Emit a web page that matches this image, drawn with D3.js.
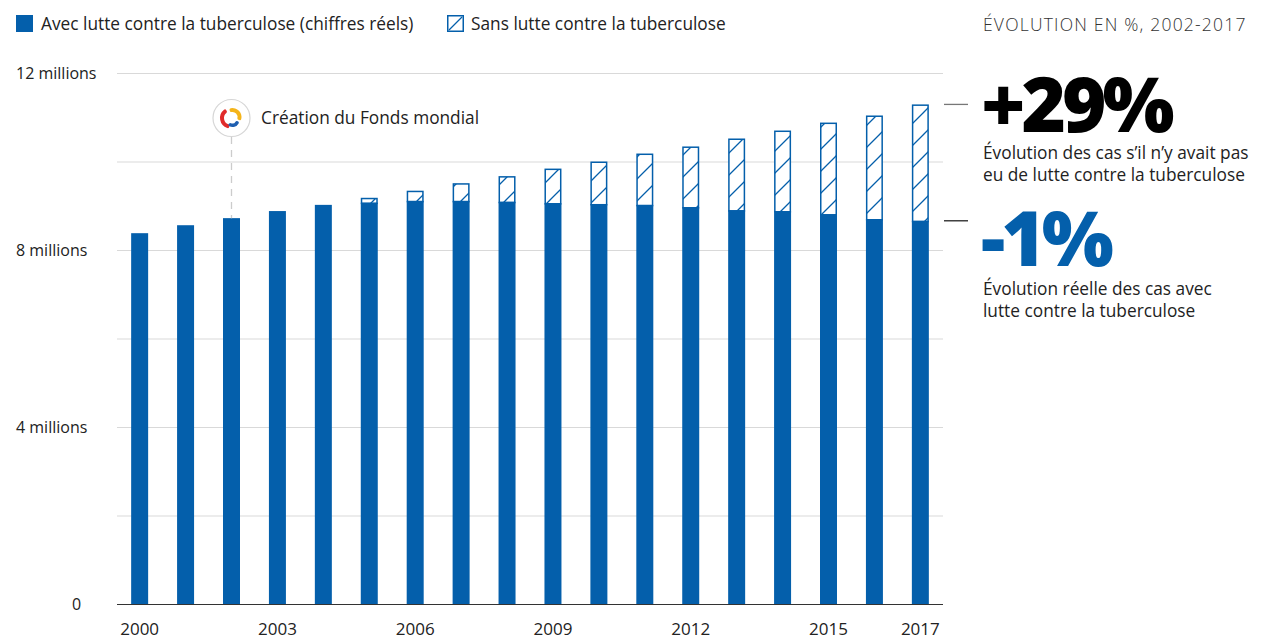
<!DOCTYPE html>
<html>
<head>
<meta charset="utf-8">
<script src="https://cdn.jsdelivr.net/npm/d3@7"></script>
<style>
  body { margin: 0; background: #fff; }
  svg { display: block; font-family: "Open Sans", "Lato", sans-serif; }
</style>
</head>
<body>
<div id="chart"></div>
<script>
// Data (millions of cases)
const years = [2000, 2001, 2002, 2003, 2004, 2005, 2006, 2007, 2008, 2009, 2010, 2011, 2012, 2013, 2014, 2015, 2016, 2017];
const actualCases = [8.38, 8.56, 8.72, 8.88, 9.02, 9.07, 9.11, 9.11, 9.09, 9.06, 9.04, 9.02, 8.97, 8.90, 8.88, 8.81, 8.70, 8.66];
const noResponseCases = [null, null, null, null, null, 9.18, 9.34, 9.51, 9.67, 9.84, 10.00, 10.18, 10.34, 10.52, 10.70, 10.88, 11.04, 11.29];
const yTicks = [0, 4, 8, 12];
const yGrid = [2, 4, 6, 8, 10, 12];
const xTickYears = [2000, 2003, 2006, 2009, 2012, 2015, 2017];
const legendLabels = ["Avec lutte contre la tuberculose (chiffres réels)", "Sans lutte contre la tuberculose"];

const blue = "#045fab";
const width = 1261, height = 640;
const fs = 17.3;

const svg = d3.select("#chart").append("svg")
    .attr("width", width)
    .attr("height", height);

const defs = svg.append("defs");
const hatch = defs.append("pattern")
    .attr("id", "hatch")
    .attr("patternUnits", "userSpaceOnUse")
    .attr("width", 22)
    .attr("height", 22)
    .attr("y", 2);
hatch.append("rect").attr("width", 22).attr("height", 22).attr("fill", "#fff");
hatch.append("path")
    .attr("d", "M0,22 L22,0 M-11,11 L11,-11 M11,33 L33,11")
    .attr("stroke", blue)
    .attr("stroke-width", 1.3);

// Scales
const x = d3.scaleBand()
    .domain(years)
    .range([116, 944])
    .paddingInner(0.63)
    .paddingOuter(0.33);

const y = d3.scaleLinear()
    .domain([0, 12])
    .range([604, 73]);

// Grid lines
svg.append("g")
    .selectAll("line")
    .data(yGrid)
    .join("line")
    .attr("x1", 117)
    .attr("x2", 943)
    .attr("y1", d => y(d) + 0.5)
    .attr("y2", d => y(d) + 0.5)
    .attr("stroke", "#d9d9d9")
    .attr("stroke-width", 1);

// Y labels
svg.append("g")
    .selectAll("text")
    .data(yTicks)
    .join("text")
    .attr("x", d => d === 0 ? 72 : 16)
    .attr("y", d => y(d) + 6)
    .attr("font-size", 16)
    .attr("fill", "#222")
    .text(d => d === 0 ? "0" : d + " millions");

// Hatched part (total without response)
const rows = years.map((yr, i) => ({ year: yr, actual: actualCases[i], total: noResponseCases[i] }));

svg.append("g")
    .selectAll("rect")
    .data(rows.filter(d => d.total !== null))
    .join("rect")
    .attr("x", d => x(d.year) + 0.75)
    .attr("width", x.bandwidth() - 1.5)
    .attr("y", d => y(d.total) + 0.75)
    .attr("height", d => y(d.actual) - y(d.total))
    .attr("fill", "url(#hatch)")
    .attr("stroke", blue)
    .attr("stroke-width", 1.5);

// Solid bars (actual)
svg.append("g")
    .selectAll("rect")
    .data(rows)
    .join("rect")
    .attr("x", d => x(d.year))
    .attr("width", x.bandwidth())
    .attr("y", d => y(d.actual))
    .attr("height", d => y(0) - y(d.actual))
    .attr("fill", blue);

// Baseline
svg.append("line")
    .attr("x1", 117).attr("x2", 943)
    .attr("y1", y(0) + 0.5).attr("y2", y(0) + 0.5)
    .attr("stroke", "#333").attr("stroke-width", 1.2);

// X labels
svg.append("g")
    .selectAll("text")
    .data(xTickYears)
    .join("text")
    .attr("x", d => x(d) + x.bandwidth() / 2)
    .attr("y", 635)
    .attr("text-anchor", "middle")
    .attr("font-size", 17)
    .attr("fill", "#222")
    .text(d => d);

// Global Fund marker at 2002
const mx = x(2002) + x.bandwidth() / 2;
svg.append("line")
    .attr("x1", mx).attr("x2", mx)
    .attr("y1", 137).attr("y2", y(actualCases[2]))
    .attr("stroke", "#ccc")
    .attr("stroke-width", 1.3)
    .attr("stroke-dasharray", "7,6");
const logo = svg.append("g").attr("transform", `translate(${mx},118)`);
logo.append("circle").attr("r", 18.5).attr("fill", "#fff").attr("stroke", "#d6d6d6").attr("stroke-width", 1.2);
const arc = d3.arc().cornerRadius(1.5);
logo.append("path")
    .attr("d", arc({ innerRadius: 6.5, outerRadius: 10.5, startAngle: -3.0, endAngle: -0.5 }))
    .attr("fill", "#e02b2b")
    .attr("transform", "translate(-1,0)");
logo.append("path")
    .attr("d", arc({ innerRadius: 5, outerRadius: 9, startAngle: -0.4, endAngle: 2.0 }))
    .attr("fill", "#f4b41a")
    .attr("transform", "translate(1,-1)");
logo.append("path")
    .attr("d", arc({ innerRadius: 3.5, outerRadius: 7, startAngle: 1.8, endAngle: 3.9 }))
    .attr("fill", "#1f5fb0")
    .attr("transform", "translate(1,2)");
svg.append("text")
    .attr("x", 261).attr("y", 124)
    .attr("font-size", fs)
    .attr("fill", "#222")
    .text("Création du Fonds mondial");

// Legend
svg.append("rect").attr("x", 16).attr("y", 15).attr("width", 17).attr("height", 17).attr("fill", blue);
svg.append("text").attr("x", 41).attr("y", 30).attr("font-size", fs).attr("fill", "#222").text(legendLabels[0]);
svg.append("rect").attr("x", 447.75).attr("y", 15.75).attr("width", 15.5).attr("height", 15.5)
    .attr("fill", "#fff").attr("stroke", blue).attr("stroke-width", 1.5);
svg.append("line").attr("x1", 449).attr("y1", 30).attr("x2", 462).attr("y2", 17)
    .attr("stroke", blue).attr("stroke-width", 1.3);
svg.append("text").attr("x", 471).attr("y", 30).attr("font-size", fs).attr("fill", "#222").text(legendLabels[1]);

// Right panel
const last = noResponseCases[noResponseCases.length - 1];
const lastActual = actualCases[actualCases.length - 1];
svg.append("line").attr("x1", 944).attr("x2", 968)
    .attr("y1", y(last)).attr("y2", y(last)).attr("stroke", "#777").attr("stroke-width", 1.3);
svg.append("line").attr("x1", 944).attr("x2", 968)
    .attr("y1", y(lastActual)).attr("y2", y(lastActual)).attr("stroke", "#222").attr("stroke-width", 1.3);

svg.append("text").attr("x", 983).attr("y", 31).attr("font-size", 17.5).attr("font-weight", 300)
    .attr("letter-spacing", 1.2)
    .attr("fill", "#333").text("ÉVOLUTION EN %, 2002-2017");

svg.append("text").attr("x", 981).attr("y", 132).attr("font-size", 76).attr("font-weight", 800)
    .attr("letter-spacing", -4).attr("fill", "#000").text("+29%");
svg.append("text").attr("x", 983).attr("y", 159).attr("font-size", fs).attr("fill", "#222")
    .text("Évolution des cas s’il n’y avait pas");
svg.append("text").attr("x", 983).attr("y", 181).attr("font-size", fs).attr("fill", "#222")
    .text("eu de lutte contre la tuberculose");

svg.append("text").attr("x", 981).attr("y", 266).attr("font-size", 76).attr("font-weight", 800)
    .attr("letter-spacing", -4).attr("fill", blue).text("-1%");
svg.append("text").attr("x", 983).attr("y", 295).attr("font-size", fs).attr("fill", "#222")
    .text("Évolution réelle des cas avec");
svg.append("text").attr("x", 983).attr("y", 317).attr("font-size", fs).attr("fill", "#222")
    .text("lutte contre la tuberculose");
</script>
</body>
</html>
